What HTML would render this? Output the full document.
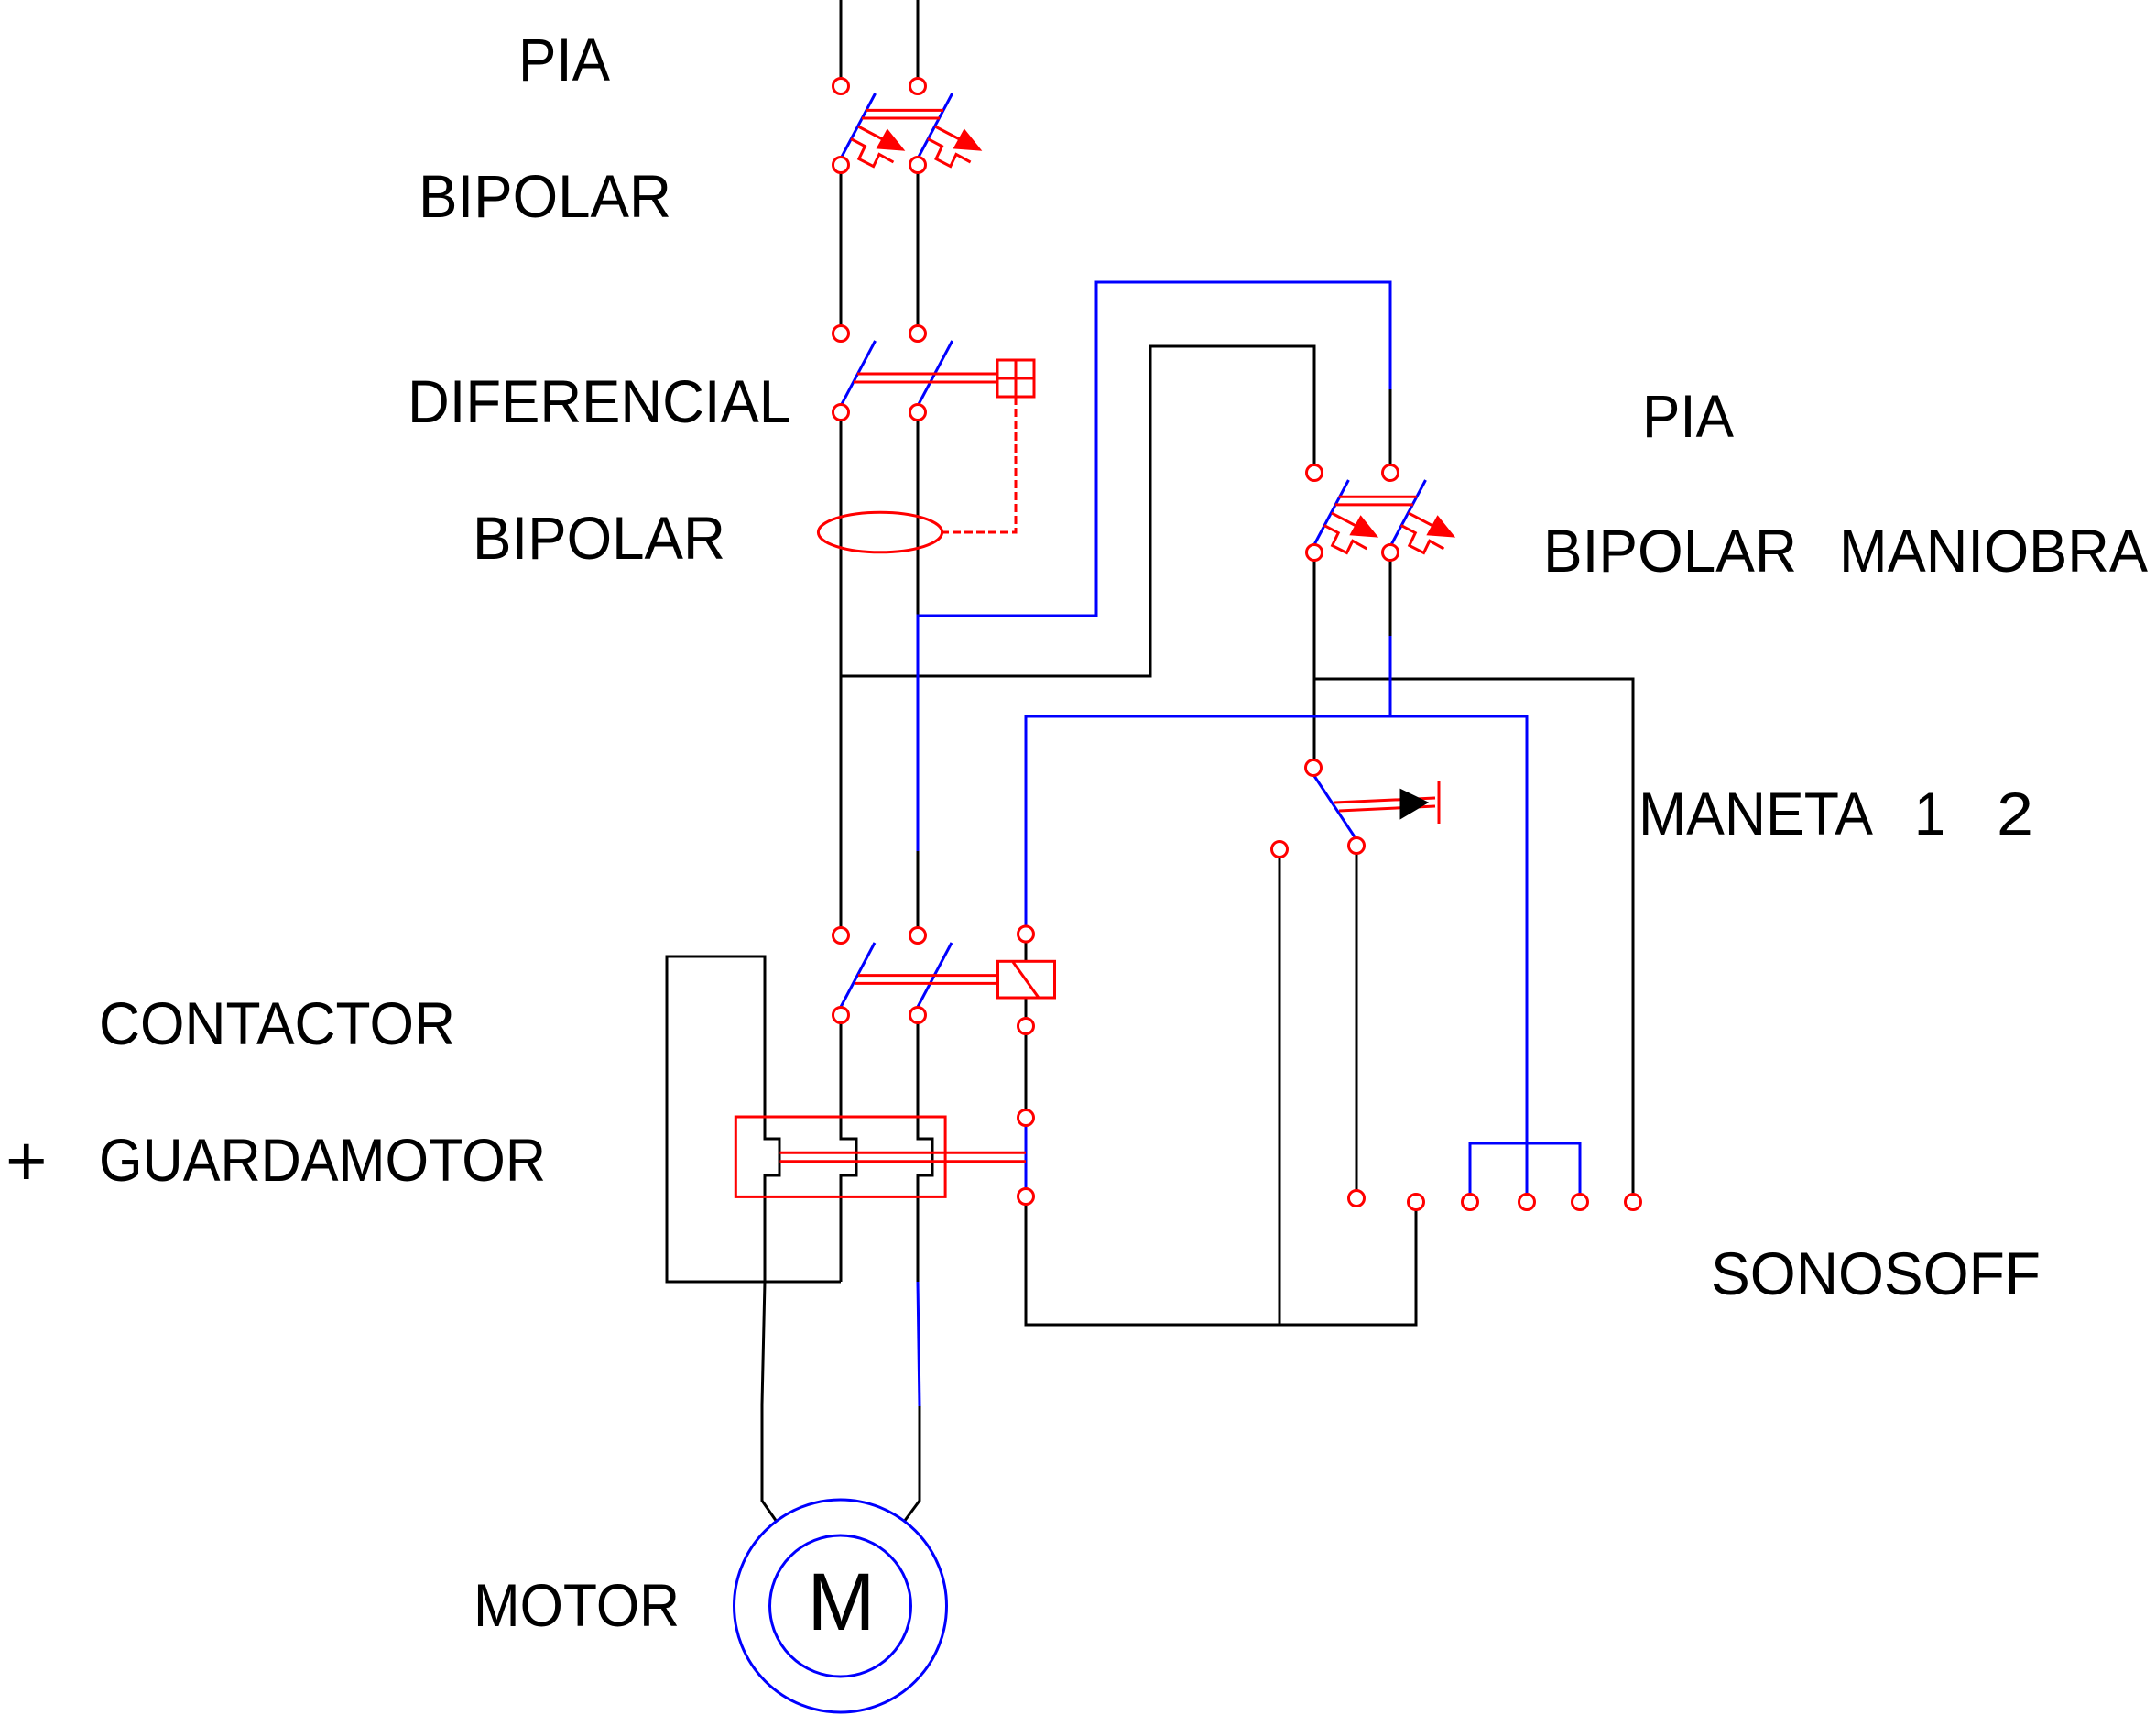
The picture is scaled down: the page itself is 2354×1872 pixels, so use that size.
<!DOCTYPE html>
<html><head><meta charset="utf-8"><style>
html,body{margin:0;padding:0;background:#fff;}
svg{display:block;}
text{font-family:"Liberation Sans",sans-serif;fill:#000;}
</style></head><body>
<svg width="2354" height="1872" viewBox="0 0 2354 1872" xmlns="http://www.w3.org/2000/svg">
<rect width="2354" height="1872" fill="#fff"/>
<g fill="none" stroke-width="3">
<g stroke="#000">
<line x1="918" y1="0" x2="918" y2="94"/>
<line x1="1002" y1="0" x2="1002" y2="94"/>
<line x1="918" y1="180" x2="918" y2="364"/>
<line x1="1002" y1="180" x2="1002" y2="364"/>
<line x1="918" y1="450" x2="918" y2="1021"/>
<line x1="1002" y1="450" x2="1002" y2="672"/>
<line x1="1002" y1="929" x2="1002" y2="1021"/>
<polyline points="918,738 1256,738 1256,378 1435,378 1435,516"/>
<line x1="1518" y1="425" x2="1518" y2="516"/>
<line x1="1435" y1="603" x2="1435" y2="838"/>
<line x1="1518" y1="603" x2="1518" y2="694"/>
<polyline points="1435,741 1783,741 1783,1303"/>
<line x1="1120" y1="1028" x2="1120" y2="1049"/>
<line x1="1120" y1="1089" x2="1120" y2="1112"/>
<line x1="1120" y1="1128" x2="1120" y2="1212"/>
<polyline points="1120,1314 1120,1446 1546,1446 1546,1320"/>
<line x1="1397" y1="935" x2="1397" y2="1446"/>
<line x1="1481" y1="931" x2="1481" y2="1300"/>
<polyline points="918,1116 918,1243 935,1243 935,1283 918,1283 918,1399"/>
<polyline points="1002,1116 1002,1243 1018,1243 1018,1283 1002,1283 1002,1399"/>
<polyline points="835,1399 728,1399 728,1044 835,1044 835,1243 851,1243 851,1283 835,1283 835,1399 832,1533 832,1638 848,1661"/>
<line x1="728" y1="1399" x2="918" y2="1399"/>
<polyline points="1004,1535 1004,1638 987,1661"/>
</g>
<g stroke="#0000ff">
<polyline points="1002,929 1002,672 1197,672 1197,308 1518,308 1518,425"/>
<line x1="1518" y1="694" x2="1518" y2="782"/>
<polyline points="1120,1011 1120,782 1667,782 1667,1303"/>
<polyline points="1605,1303 1605,1248 1725,1248 1725,1303"/>
<line x1="1120" y1="1228" x2="1120" y2="1298"/>
<line x1="1002" y1="1399" x2="1004" y2="1535"/>
<line x1="918" y1="173" x2="955.6" y2="102"/>
<line x1="1002" y1="173" x2="1039.7" y2="102"/>
<line x1="918" y1="443" x2="955.6" y2="372"/>
<line x1="1002" y1="443" x2="1039.7" y2="372"/>
<line x1="1434.7" y1="595" x2="1472.4" y2="524"/>
<line x1="1518.8" y1="595" x2="1556.5" y2="524"/>
<line x1="918" y1="1099" x2="955" y2="1029"/>
<line x1="1002" y1="1099" x2="1039" y2="1029"/>
<line x1="1435" y1="847" x2="1480" y2="915"/>
<circle cx="917.5" cy="1753" r="116"/>
<circle cx="917.5" cy="1753" r="77"/>
</g>
<g stroke="#ff0000">
<g>
<line x1="945" y1="120.4" x2="1030" y2="120.4"/>
<line x1="941" y1="129" x2="1026" y2="129"/>
<line x1="937" y1="138" x2="975" y2="158"/>
<polygon points="969,143 959,161 985,163" fill="#ff0000"/>
<polyline points="929,151.5 944.4,159.7 937.8,173.5 953.6,181.6 960,168.4 975.5,177"/>
<line x1="1021" y1="138" x2="1059" y2="158"/>
<polygon points="1053,143 1043,161 1069,163" fill="#ff0000"/>
<polyline points="1013,151.5 1028.5,159.7 1022,173.5 1037.7,181.6 1044,168.4 1059.6,177"/>
</g>
<g transform="translate(516.8,421.9)">
<line x1="945" y1="120.4" x2="1030" y2="120.4"/>
<line x1="941" y1="129" x2="1026" y2="129"/>
<line x1="937" y1="138" x2="975" y2="158"/>
<polygon points="969,143 959,161 985,163" fill="#ff0000"/>
<polyline points="929,151.5 944.4,159.7 937.8,173.5 953.6,181.6 960,168.4 975.5,177"/>
<line x1="1021" y1="138" x2="1059" y2="158"/>
<polygon points="1053,143 1043,161 1069,163" fill="#ff0000"/>
<polyline points="1013,151.5 1028.5,159.7 1022,173.5 1037.7,181.6 1044,168.4 1059.6,177"/>
</g>
<line x1="936" y1="408" x2="1089" y2="408"/>
<line x1="932" y1="417" x2="1089" y2="417"/>
<rect x="1089" y="393" width="40" height="40"/>
<line x1="1109" y1="393" x2="1109" y2="433"/>
<line x1="1089" y1="413" x2="1129" y2="413"/>
<polyline points="1109,433 1109,581 1029,581" stroke-dasharray="9,4"/>
<ellipse cx="961" cy="581" rx="67.6" ry="21.8"/>
<line x1="937" y1="1064.6" x2="1089.5" y2="1064.6"/>
<line x1="934" y1="1073.4" x2="1089.5" y2="1073.4"/>
<rect x="1089.5" y="1049.3" width="62" height="39.7"/>
<line x1="1106" y1="1050" x2="1134" y2="1089"/>
<rect x="803.3" y="1219" width="228.8" height="87.4"/>
<line x1="851.5" y1="1258.2" x2="1120" y2="1258.2"/>
<line x1="851.5" y1="1267.8" x2="1120" y2="1267.8"/>
<line x1="1457" y1="876" x2="1567" y2="871"/>
<line x1="1462" y1="885" x2="1567" y2="880"/>
<line x1="1571" y1="852" x2="1571" y2="899"/>
<polygon points="1530,863 1530,892 1557,876" fill="#000" stroke="#000"/>
<g fill="#fff">
<circle cx="918" cy="94" r="8.5"/><circle cx="1002" cy="94" r="8.5"/>
<circle cx="918" cy="180" r="8.5"/><circle cx="1002" cy="180" r="8.5"/>
<circle cx="918" cy="364" r="8.5"/><circle cx="1002" cy="364" r="8.5"/>
<circle cx="918" cy="450" r="8.5"/><circle cx="1002" cy="450" r="8.5"/>
<circle cx="1435" cy="516" r="8.5"/><circle cx="1518" cy="516" r="8.5"/>
<circle cx="1435" cy="603" r="8.5"/><circle cx="1518" cy="603" r="8.5"/>
<circle cx="1434" cy="838" r="8.5"/><circle cx="1481" cy="923" r="8.5"/>
<circle cx="1397" cy="927" r="8.5"/>
<circle cx="918" cy="1021" r="8.5"/><circle cx="1002" cy="1021" r="8.5"/><circle cx="1120" cy="1019.5" r="8.5"/>
<circle cx="918" cy="1108" r="8.5"/><circle cx="1002" cy="1108" r="8.5"/><circle cx="1120" cy="1120" r="8.5"/>
<circle cx="1120" cy="1220" r="8.5"/><circle cx="1120" cy="1306" r="8.5"/>
<circle cx="1481" cy="1308" r="8.5"/><circle cx="1546" cy="1312" r="8.5"/>
<circle cx="1605" cy="1312" r="8.5"/><circle cx="1667" cy="1312" r="8.5"/>
<circle cx="1725" cy="1312" r="8.5"/><circle cx="1783" cy="1312" r="8.5"/>
</g>
</g>
</g>
<g font-size="66">
<text x="566" y="88" textLength="100" lengthAdjust="spacingAndGlyphs">PIA</text>
<text x="457" y="237" textLength="276" lengthAdjust="spacingAndGlyphs">BIPOLAR</text>
<text x="445" y="461" textLength="419" lengthAdjust="spacingAndGlyphs">DIFERENCIAL</text>
<text x="516" y="610" textLength="276" lengthAdjust="spacingAndGlyphs">BIPOLAR</text>
<text x="1793" y="477" textLength="100" lengthAdjust="spacingAndGlyphs">PIA</text>
<text x="1685" y="624" textLength="277" lengthAdjust="spacingAndGlyphs">BIPOLAR</text>
<text x="2008" y="624" textLength="337" lengthAdjust="spacingAndGlyphs">MANIOBRA</text>
<text x="1789" y="911" textLength="256" lengthAdjust="spacingAndGlyphs">MANETA</text>
<text x="2090" y="911" textLength="34" lengthAdjust="spacingAndGlyphs">1</text>
<text x="2180" y="911" textLength="40" lengthAdjust="spacingAndGlyphs">2</text>
<text x="108" y="1140" textLength="389" lengthAdjust="spacingAndGlyphs">CONTACTOR</text>
<text x="108" y="1289" textLength="488" lengthAdjust="spacingAndGlyphs">GUARDAMOTOR</text>
<text x="1868" y="1413" textLength="360" lengthAdjust="spacingAndGlyphs">SONOSOFF</text>
<text x="517" y="1775" textLength="225" lengthAdjust="spacingAndGlyphs">MOTOR</text>
</g>
<text x="6" y="1294" font-size="78">+</text>
<text x="918.5" y="1779" font-size="89" text-anchor="middle">M</text>
</svg>
</body></html>
